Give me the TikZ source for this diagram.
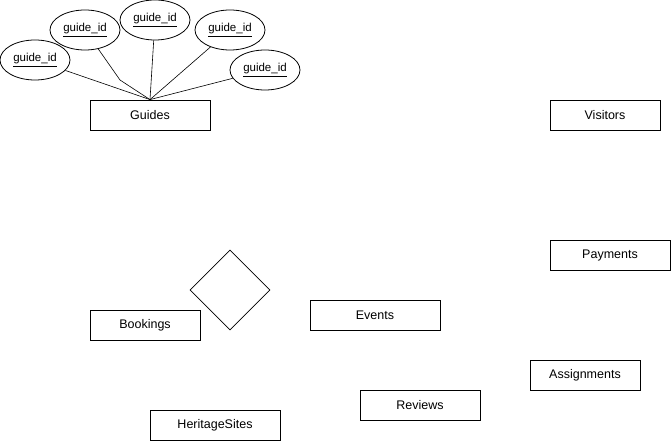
\documentclass[tikz,border=0pt]{standalone}
\usepackage{fontspec}
\setmainfont{Liberation Sans}
\usetikzlibrary{shapes.geometric}
\newcommand{\ul}[1]{\underline{#1}}
\begin{document}
\begin{tikzpicture}[x=1pt,y=-1pt,
  entity/.style={draw, line width=0.8pt, rectangle, minimum height=30pt, inner sep=0pt, font=\fontsize{12.5}{14}\selectfont},
  attr/.style={draw, line width=0.8pt, ellipse, minimum width=70pt, minimum height=40pt, inner sep=0pt, font=\fontsize{11.5}{13}\selectfont},
  rel/.style={draw, line width=0.8pt, diamond, minimum width=80pt, minimum height=80pt, inner sep=0pt},
  conn/.style={draw, line width=0.6pt}]
\useasboundingbox (0,0) rectangle (671,441);
% entities
\node[entity, minimum width=120pt] (guides) at (150,115) {Guides};
\node[entity, minimum width=110pt] (visitors) at (605,115) {Visitors};
\node[entity, minimum width=120pt] (payments) at (610,255) {Payments};
\node[entity, minimum width=110pt] (bookings) at (145,325) {Bookings};
\node[entity, minimum width=130pt] (events) at (375,315) {Events};
\node[entity, minimum width=110pt] (assignments) at (585,375) {Assignments};
\node[entity, minimum width=120pt] (reviews) at (420,405) {Reviews};
\node[entity, minimum width=130pt] (heritage) at (215,425) {HeritageSites};
% relationship
\node[rel] (rel1) at (230,290) {};
% attributes
\node[attr] (a1) at (35,60) {\ul{guide\_id}};
\node[attr] (a2) at (85,30) {\ul{guide\_id}};
\node[attr] (a3) at (155,20) {\ul{guide\_id}};
\node[attr] (a4) at (230,30) {\ul{guide\_id}};
\node[attr] (a5) at (265,70) {\ul{guide\_id}};
% connectors
\coordinate (bend2) at (120,80);
\draw[conn] (a1) -- (guides.north);
\draw[conn] (a2) -- (bend2) -- (guides.north);
\draw[conn] (a3) -- (guides.north);
\draw[conn] (a4) -- (guides.north);
\draw[conn] (a5) -- (guides.north);
\end{tikzpicture}
\end{document}
